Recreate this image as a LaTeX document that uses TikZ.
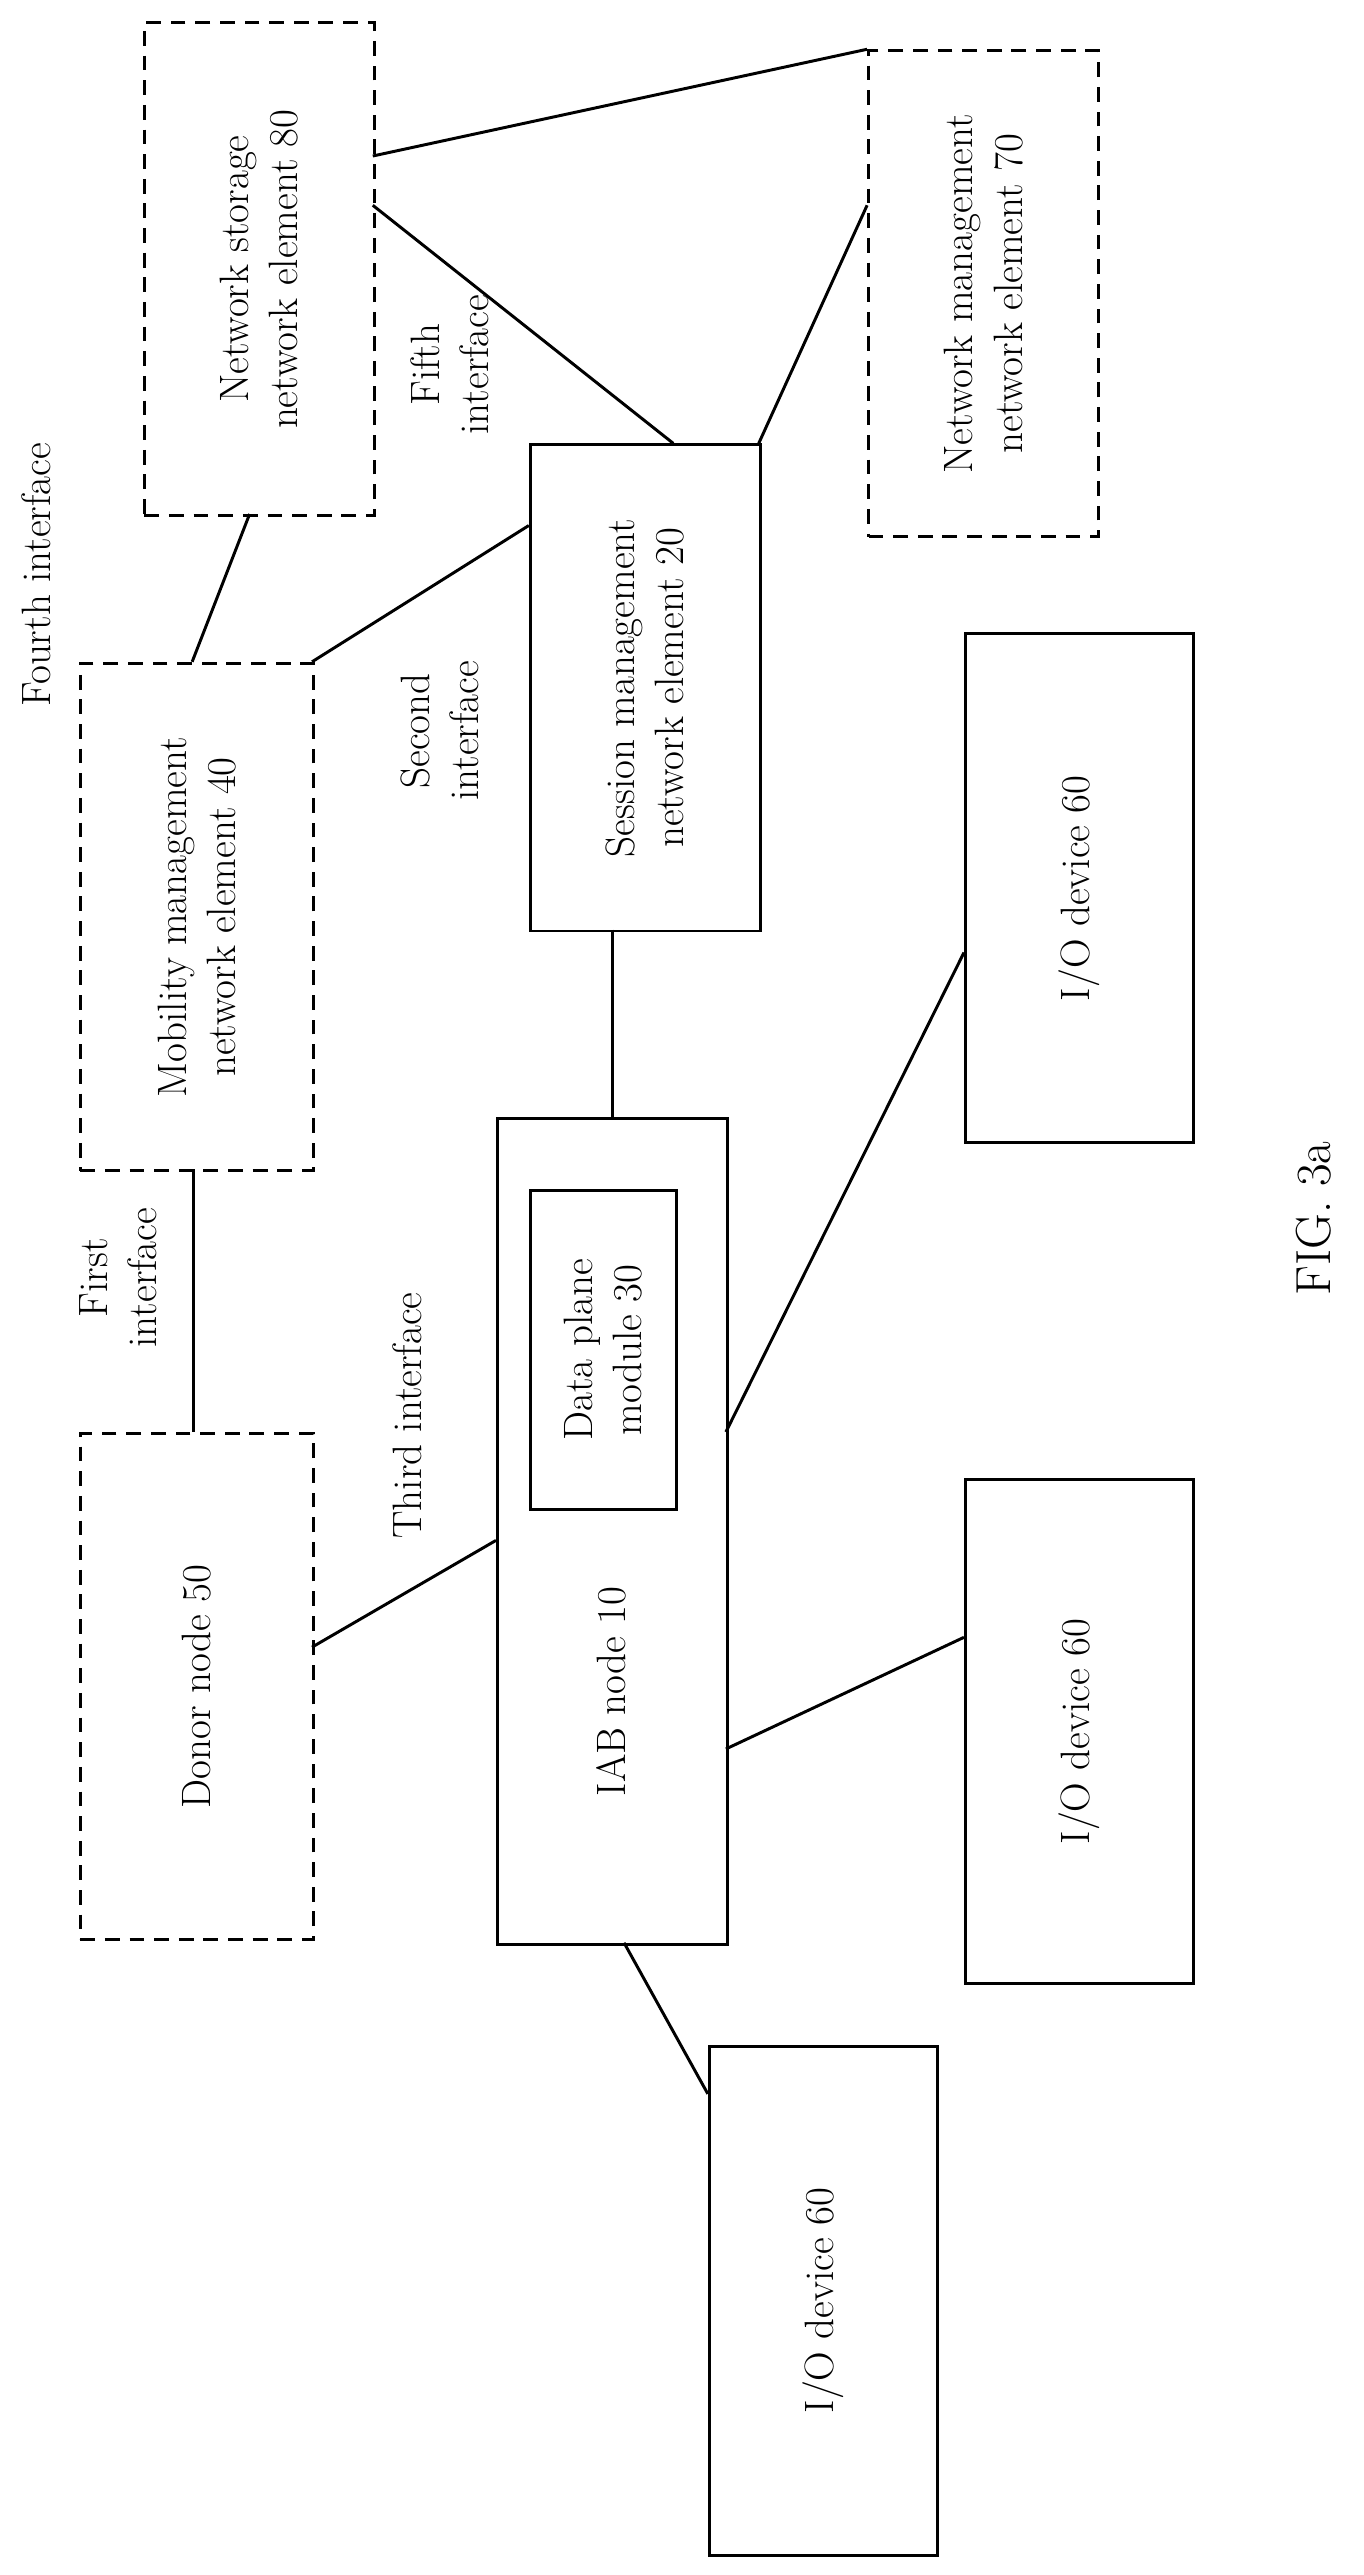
\documentclass[tikz,border=0pt]{standalone}
\begin{document}
\begin{tikzpicture}[x=1pt,y=-1pt,
  box/.style={draw,line width=1.8pt,inner sep=0,anchor=north west},
  dbox/.style={box,dash pattern=on 9pt off 6pt},
  txt/.style={rotate=90,align=center,font=\fontsize{25}{30}\selectfont},
  ln/.style={line width=1.8pt}]
\useasboundingbox (0,0) rectangle (830,1568);
\newcommand\bx[6]{\node[#1,minimum width=#4pt,minimum height=#5pt] (#2) at #3 {};
  \node[txt] (#2t) at (#2.center) {#6};}
\bx{dbox}{n80}{(87,13)}{140}{300}{Network storage\\network element 80}
\bx{dbox}{n70}{(528,30)}{140}{296}{Network management\\network element 70}
\bx{box}{n20}{(322,270)}{140}{296}{Session management\\network element 20}
\bx{dbox}{n40}{(48,403)}{142}{309}{Mobility management\\network element 40}
\node[box,minimum width=140pt,minimum height=503pt] (n10) at (302,680) {};
\node[txt] (n10t) at (372,1030) {IAB node 10};
\bx{box}{n30}{(322,724)}{89}{194}{Data plane\\module 30}
\bx{dbox}{n50}{(48,872)}{142}{308}{Donor node 50}
\bx{box}{io1}{(587,385)}{139}{310}{I/O device 60}
\bx{box}{io2}{(587,900)}{139}{307}{I/O device 60}
\bx{box}{io3}{(431,1245)}{139}{310}{I/O device 60}
\coordinate (a1) at (227,95); \coordinate (a2) at (227,125);
\coordinate (b1) at (410,270); \coordinate (b2) at (462,270);
\coordinate (c1) at (528,125); \coordinate (d1) at (117,403);
\coordinate (d2) at (152,313); \coordinate (e1) at (190,403);
\coordinate (e2) at (322,320); \coordinate (f1) at (118,712);
\coordinate (f2) at (118,872); \coordinate (g1) at (373,566);
\coordinate (g2) at (373,680); \coordinate (h1) at (190,1003);
\coordinate (h2) at (302,938); \coordinate (i1) at (442,872);
\coordinate (i2) at (587,580); \coordinate (j1) at (442,1065);
\coordinate (j2) at (587,997); \coordinate (k1) at (380,1183);
\coordinate (k2) at (431,1275);
\draw[ln] (a1)--(n70.north west);
\draw[ln] (a2)--(b1); \draw[ln] (c1)--(b2); \draw[ln] (d1)--(d2);
\draw[ln] (e1)--(e2); \draw[ln] (f1)--(f2); \draw[ln] (g1)--(g2);
\draw[ln] (h1)--(h2); \draw[ln] (i1)--(i2); \draw[ln] (j1)--(j2);
\draw[ln] (k1)--(k2);
\node[txt] (l4) at (22,350) {Fourth interface};
\node[txt] (l5) at (274,222) {Fifth\\interface};
\node[txt] (l2) at (268,445) {Second\\interface};
\node[txt] (l1) at (72,778) {First\\interface};
\node[txt] (l3) at (248,862) {Third interface};
\node[txt,font=\fontsize{30}{36}\selectfont] (fig) at (800,742) {FIG. 3a};
\end{tikzpicture}
\end{document}
